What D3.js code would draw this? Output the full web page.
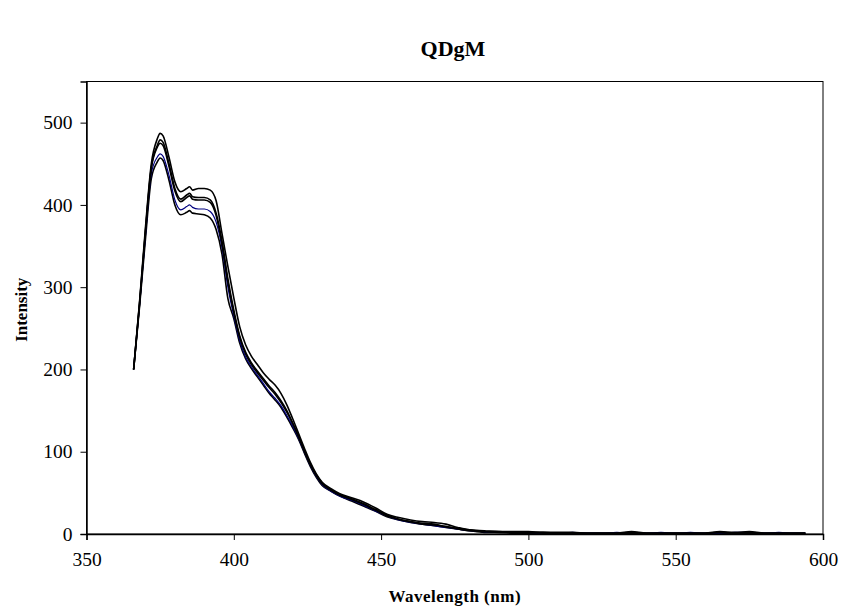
<!DOCTYPE html>
<html><head><meta charset="utf-8">
<script src="https://cdn.jsdelivr.net/npm/d3@7"></script>
<style>body{margin:0;background:#fff}svg{display:block}text{font-family:"Liberation Serif","Times New Roman",serif}</style>
</head><body><svg id="c" width="843" height="612"></svg>
<script>
const title = "QDgM";
const xLabel = "Wavelength (nm)";
const yLabel = "Intensity";
const xTicks = [350, 400, 450, 500, 550, 600];
const yTicks = [0, 100, 200, 300, 400, 500];
const wavelength = [366,368,370,372,374,375,376,378,380,382,384,385,386,388,390,392,394,396,398,400,402,404,406,408,410,412,414,416,418,420,422,424,426,428,430,433,436,440,444,448,452,456,460,464,468,472,476,480,485,490,495,500,505,510,515,520,525,530,535,540,545,550,555,560,565,570,575,580,585,590,594];
const seriesA = [200,282,372,450,480,487,484,458,428,416,420,422,418,420,420,418,405,365,325,287,252,230,216,206,196,188,181,171,157,140,122,104,87,73,63,55,49,44,39,32,24,20,17,15,14,12,8,5,4,3,3,3,2,2,2,1,1,1,3,1,1,1,1,1,3,2,3,1,1,1,1];
const seriesB = [200,280,368,446,472,479,476,450,420,407,412,414,410,409,409,406,390,356,310,272,241,221,208,198,189,180,172,162,150,135,119,101,85,72,62,54,48,43,37,30,23,18,15,13,12,9,7,5,3,3,2,2,2,1,1,1,1,1,2,1,1,1,1,1,2,1,2,1,1,1,1];
const seriesC = [200,279,366,444,470,475,472,447,417,404,409,411,407,406,406,403,387,352,306,269,239,219,206,196,187,178,170,160,148,134,118,100,84,71,61,53,47,42,36,29,22,18,15,12,11,9,6,4,3,2,2,2,1,1,1,1,1,1,1,1,1,1,1,1,2,1,1,1,1,1,1];
const seriesD = [200,278,362,438,458,462,459,436,406,394,398,400,397,395,395,392,379,348,300,265,235,215,203,193,183,173,165,156,144,131,116,99,83,70,60,52,46,41,35,28,22,17,14,12,10,8,6,4,3,2,2,2,1,1,2,1,1,2,1,1,2,1,2,1,1,2,2,1,2,1,1];
const seriesE = [200,276,358,432,452,457,454,430,400,388,391,393,390,389,388,384,370,340,286,262,232,213,201,191,181,171,163,154,142,129,115,98,82,69,59,52,46,40,34,28,21,17,14,12,10,8,6,4,2,2,1,1,1,1,1,1,1,1,1,1,1,1,1,1,1,1,1,1,1,1,1];
const series = [
  {values: seriesE, color: "#000000", width: 1.6},
  {values: seriesD, color: "#000080", width: 1.2},
  {values: seriesC, color: "#000000", width: 1.6},
  {values: seriesB, color: "#000000", width: 1.6},
  {values: seriesA, color: "#000000", width: 1.6}
];

const svg = d3.select("#c");
const m = {l: 86.5, r: 20, t: 81.5, b: 78};
const W = 843, H = 612;
const x = d3.scaleLinear().domain([350, 600]).range([m.l, W - m.r]);
const y = d3.scaleLinear().domain([0, 550]).range([H - m.b, m.t]);

svg.append("text").attr("x", 453).attr("y", 56).attr("text-anchor", "middle")
  .attr("font-size", 22).attr("font-weight", "bold").text(title);

svg.append("rect").attr("x", m.l).attr("y", m.t).attr("width", W - m.r - m.l).attr("height", H - m.b - m.t)
  .attr("fill", "none").attr("stroke", "#000").attr("stroke-width", 1);

const line = d3.line().x((d, i) => x(wavelength[i])).y(d => y(d)).curve(d3.curveMonotoneX);
series.forEach(s => {
  svg.append("path").datum(s.values).attr("d", line).attr("fill", "none")
    .attr("stroke", s.color).attr("stroke-width", s.width).attr("stroke-linejoin", "round");
});

const xAxis = svg.append("g").attr("transform", `translate(0,${H - m.b})`)
  .call(d3.axisBottom(x).tickValues(xTicks).tickSize(6).tickPadding(12).tickFormat(d3.format("d")));
const yAxis = svg.append("g").attr("transform", `translate(${m.l},0)`)
  .call(d3.axisLeft(y).tickValues(yTicks).tickSize(6).tickPadding(8).tickFormat(d3.format("d")));
[xAxis, yAxis].forEach(a => {
  a.select(".domain").attr("stroke", "#000").attr("stroke-width", 1.5);
  a.selectAll(".tick line").attr("stroke", "#000").attr("stroke-width", 1);
  a.selectAll(".tick text").attr("font-family", "Liberation Serif").attr("font-size", 19.5).attr("fill", "#000");
});

svg.append("text").attr("x", (m.l + W - m.r) / 2).attr("y", 602).attr("text-anchor", "middle")
  .attr("font-size", 17).attr("font-weight", "bold").attr("letter-spacing", 0.5).text(xLabel);
svg.append("text").attr("transform", `translate(27,${(m.t + H - m.b) / 2 + 2}) rotate(-90)`)
  .attr("text-anchor", "middle").attr("font-size", 17).attr("font-weight", "bold").text(yLabel);
</script></body></html>
